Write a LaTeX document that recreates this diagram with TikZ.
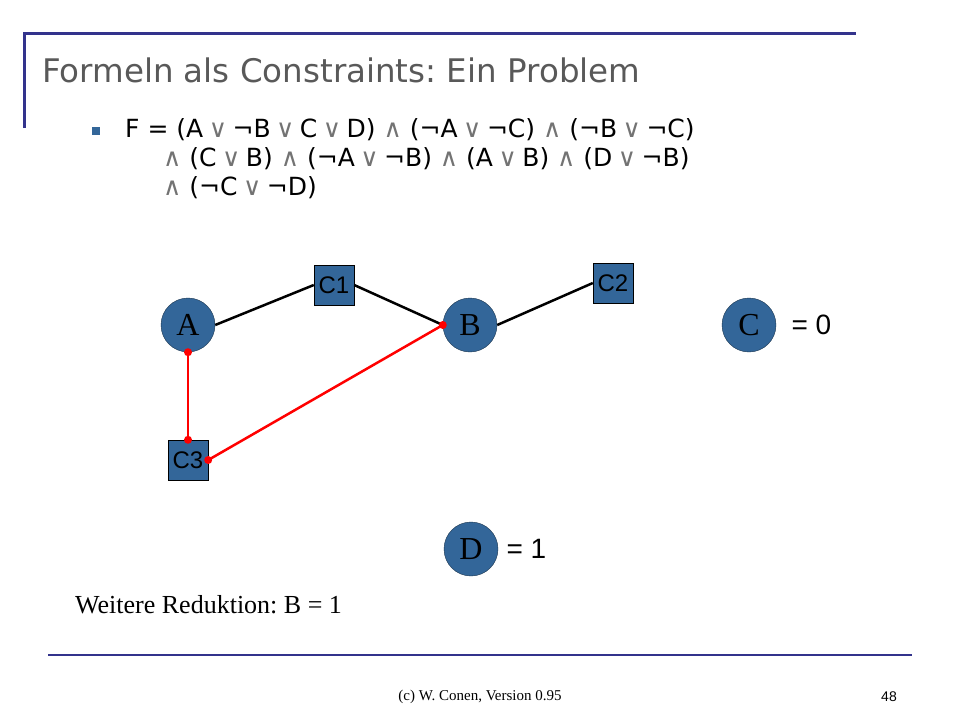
\documentclass[tikz,border=0pt]{standalone}
\usepackage{fontspec}
\setmainfont{Liberation Serif}
\newfontfamily\titlefont{DejaVu Sans}
\newfontfamily\arialfont{Liberation Sans}
\frenchspacing
\definecolor{rahmen}{RGB}{51,51,140}
\definecolor{knoten}{RGB}{51,102,153}
\definecolor{titel}{RGB}{89,89,89}
\newcommand{\oder}{{\color{black!55}\hspace{0.22em}∨\hspace{0.22em}}}
\newcommand{\und}{{\color{black!55}∧}}
\tikzset{
  var/.style={circle,draw=knoten!50!black,fill=knoten,minimum size=54pt,inner sep=0pt,font=\fontsize{32}{32}\selectfont},
  cons/.style={rectangle,draw=black,fill=knoten,minimum size=40pt,inner sep=0pt,font=\arialfont\fontsize{24}{24}\selectfont},
  kante/.style={line width=2.5pt},
  rot/.style={kante,red}
}
\begin{document}
\begin{tikzpicture}[x=1pt,y=-1pt]
\useasboundingbox (0,0) rectangle (960,720);
% rahmen
\draw[rahmen,line width=3pt] (24,128) -- (24,33) -- (856,33);
\draw[rahmen,line width=2pt] (48,655) -- (912,655);
\node[anchor=base west,inner sep=0pt,titel,font=\titlefont\fontsize{32.5}{32.5}\selectfont] (titel) at (42,82) {Formeln als Constraints: Ein Problem};
% formel
\fill[knoten] (92,127) rectangle (100,135);
\begin{scope}[font=\titlefont\fontsize{25}{25}\selectfont]
\node[anchor=base west,inner sep=0pt] (f1) at (125,137) {F = (A\oder¬B\oder C\oder D) \und{} (¬A\oder¬C) \und{} (¬B\oder¬C)};
\node[anchor=base west,inner sep=0pt] (f2) at (163,166) {\und{} (C\oder B) \und{} (¬A\oder¬B) \und{} (A\oder B) \und{} (D\oder¬B)};
\node[anchor=base west,inner sep=0pt] (f3) at (163,195) {\und{} (¬C\oder¬D)};
\end{scope}
% graph
\node[var] (A) at (188,325) {A};
\node[var] (B) at (470,325) {B};
\node[var] (C) at (749,325) {C};
\node[var] (D) at (471,549) {D};
\node[cons] (C1) at (334,285) {C1};
\node[cons] (C2) at (613,283) {C2};
\node[cons] (C3) at (188,460) {C3};
\draw[kante] (A.east) -- (C1.west);
\draw[kante] (C1.east) -- (B.west);
\draw[kante] (B.east) -- (C2.west);
\draw[rot] (A.south) -- (C3.north);
\draw[rot] (C3.east) -- (B.west);
\foreach \p in {A.south,C3.north,C3.east,B.west}
  \fill[red] (\p) circle (4pt);
\node[anchor=west,font=\arialfont\fontsize{28}{28}\selectfont] (c0) at (788,325) {= 0};
\node[anchor=west,font=\arialfont\fontsize{28}{28}\selectfont] (d1) at (503,549) {= 1};
\node[anchor=base west,inner sep=0pt,font=\fontsize{26}{26}\selectfont] (red) at (75,613) {Weitere Reduktion: B = 1};
% fuss
\node[font=\fontsize{15}{15}\selectfont] (fuss) at (480,697) {(c) W. Conen, Version 0.95};
\node[font=\arialfont\fontsize{14}{14}\selectfont] (seite) at (889,697) {48};
\end{tikzpicture}
\end{document}
